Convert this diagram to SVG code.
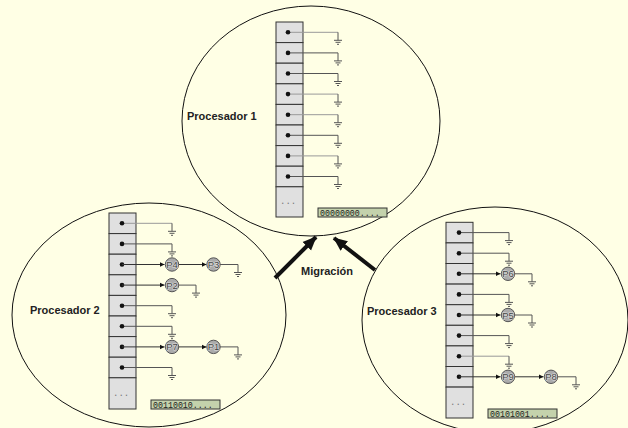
<svg xmlns="http://www.w3.org/2000/svg" xmlns:xlink="http://www.w3.org/1999/xlink" width="628" height="428" viewBox="0 0 628 428">
<style>
.ell{fill:none;stroke:#111;stroke-width:1}
.cell{fill:#E0E0E0;stroke:#333;stroke-width:1}
.dot{fill:#111}
.ln{fill:none;stroke:#555;stroke-width:1}
.lg{fill:none;stroke:#999;stroke-width:1}
.gnd{fill:none;stroke:#555;stroke-width:1}
.pc{fill:#ABABAB;stroke:#555;stroke-width:1}
.pt{font-family:"Liberation Sans",Arial,sans-serif;font-size:9.5px;fill:#444;text-anchor:middle;stroke:#DDD;stroke-width:1.2px;paint-order:stroke}
.lbl{font-family:"Liberation Sans",Arial,sans-serif;font-size:11px;font-weight:bold;fill:#222}
.bm{fill:#C4D2AC;stroke:#333;stroke-width:1}
.bt{font-family:"Liberation Mono","Courier New",monospace;font-size:8.3px;fill:#222}
.dd{font-family:"Liberation Mono",monospace;font-size:9px;fill:#777}
.arr{fill:none;stroke:#333;stroke-width:1}
.mig{fill:none;stroke:#111;stroke-width:4}
</style>
<defs>
<path id="gnd" class="gnd" d="M0,0 v8 M-4,8 h8 M-2.5,10 h5 M-1,12 h2"/>
<marker id="ah" markerWidth="6" markerHeight="6" refX="5" refY="3" orient="auto" markerUnits="userSpaceOnUse">
<path d="M0,0.5 L5,3 L0,5.5 Z" fill="#111"/>
</marker>
<marker id="big" markerWidth="14" markerHeight="14" refX="13" refY="7" orient="auto" markerUnits="userSpaceOnUse">
<path d="M0,1 L14,7 L0,13 Z" fill="#111"/>
</marker>
</defs>
<rect x="0" y="0" width="628" height="428" fill="#FFFFE5"/>

<g id="procesador1">
<ellipse class="ell" cx="311" cy="121" rx="129" ry="115"/>
<text class="lbl" x="187" y="120">Procesador 1</text>
<g>
<rect class="cell" x="276" y="22" width="27" height="20.6"/>
<rect class="cell" x="276" y="42.6" width="27" height="20.6"/>
<rect class="cell" x="276" y="63.2" width="27" height="20.6"/>
<rect class="cell" x="276" y="83.8" width="27" height="20.6"/>
<rect class="cell" x="276" y="104.4" width="27" height="20.6"/>
<rect class="cell" x="276" y="125" width="27" height="20.6"/>
<rect class="cell" x="276" y="145.6" width="27" height="20.6"/>
<rect class="cell" x="276" y="166.2" width="27" height="20.6"/>
<rect class="cell" x="276" y="186.8" width="27" height="30.2"/>
<text class="dd" x="280" y="204">...</text>
</g>
<g>
<path class="lg" d="M288,32.3 H338"/><use href="#gnd" x="338" y="32.3"/>
<path class="ln" d="M288,52.9 H338"/><use href="#gnd" x="338" y="52.9"/>
<path class="ln" d="M288,73.5 H338"/><use href="#gnd" x="338" y="73.5"/>
<path class="lg" d="M288,94.1 H338"/><use href="#gnd" x="338" y="94.1"/>
<path class="lg" d="M288,114.7 H338"/><use href="#gnd" x="338" y="114.7"/>
<path class="ln" d="M288,135.3 H338"/><use href="#gnd" x="338" y="135.3"/>
<path class="lg" d="M288,155.9 H338"/><use href="#gnd" x="338" y="155.9"/>
<path class="ln" d="M288,176.5 H338"/><use href="#gnd" x="338" y="176.5"/>
<circle class="dot" cx="288" cy="32.3" r="2.3"/>
<circle class="dot" cx="288" cy="52.9" r="2.3"/>
<circle class="dot" cx="288" cy="73.5" r="2.3"/>
<circle class="dot" cx="288" cy="94.1" r="2.3"/>
<circle class="dot" cx="288" cy="114.7" r="2.3"/>
<circle class="dot" cx="288" cy="135.3" r="2.3"/>
<circle class="dot" cx="288" cy="155.9" r="2.3"/>
<circle class="dot" cx="288" cy="176.5" r="2.3"/>
</g>
<rect class="bm" x="318" y="208" width="69" height="9"/>
<text class="bt" x="320" y="215.5">00000000....</text>
</g>

<g id="procesador2">
<ellipse class="ell" cx="149" cy="315" rx="137" ry="112"/>
<text class="lbl" x="30" y="314">Procesador 2</text>
<g>
<rect class="cell" x="109" y="213" width="27" height="20.6"/>
<rect class="cell" x="109" y="233.6" width="27" height="20.6"/>
<rect class="cell" x="109" y="254.2" width="27" height="20.6"/>
<rect class="cell" x="109" y="274.8" width="27" height="20.6"/>
<rect class="cell" x="109" y="295.4" width="27" height="20.6"/>
<rect class="cell" x="109" y="316" width="27" height="20.6"/>
<rect class="cell" x="109" y="336.6" width="27" height="20.6"/>
<rect class="cell" x="109" y="357.2" width="27" height="20.6"/>
<rect class="cell" x="109" y="377.8" width="27" height="31.2"/>
<text class="dd" x="113" y="396">...</text>
</g>
<g>
<path class="lg" d="M122,223.3 H172"/><use href="#gnd" x="172" y="223.3"/>
<path class="ln" d="M122,243.9 H172"/><use href="#gnd" x="172" y="243.9"/>
<path class="ln" d="M122,305.7 H172"/><use href="#gnd" x="172" y="305.7"/>
<path class="ln" d="M122,326.3 H172"/><use href="#gnd" x="172" y="326.3"/>
<path class="ln" d="M122,367.5 H172"/><use href="#gnd" x="172" y="367.5"/>
<path class="ln" d="M220,264.5 H238"/><use href="#gnd" x="238" y="264.5"/>
<path class="ln" d="M178,285.1 H196"/><use href="#gnd" x="196" y="285.1"/>
<path class="ln" d="M220,346.9 H238"/><use href="#gnd" x="238" y="346.9"/>
<circle class="dot" cx="122" cy="223.3" r="2.3"/>
<circle class="dot" cx="122" cy="243.9" r="2.3"/>
<circle class="dot" cx="122" cy="264.5" r="2.3"/>
<circle class="dot" cx="122" cy="285.1" r="2.3"/>
<circle class="dot" cx="122" cy="305.7" r="2.3"/>
<circle class="dot" cx="122" cy="326.3" r="2.3"/>
<circle class="dot" cx="122" cy="346.9" r="2.3"/>
<circle class="dot" cx="122" cy="367.5" r="2.3"/>
</g>
<rect class="bm" x="151" y="400" width="69" height="9"/>
<text class="bt" x="153" y="407.5">00110010....</text>
</g>

<g id="procesador3">
<ellipse class="ell" cx="495" cy="320" rx="133" ry="113"/>
<text class="lbl" x="367" y="315">Procesador 3</text>
<g>
<rect class="cell" x="446" y="222.3" width="27" height="20.6"/>
<rect class="cell" x="446" y="242.9" width="27" height="20.6"/>
<rect class="cell" x="446" y="263.5" width="27" height="20.6"/>
<rect class="cell" x="446" y="284.1" width="27" height="20.6"/>
<rect class="cell" x="446" y="304.7" width="27" height="20.6"/>
<rect class="cell" x="446" y="325.3" width="27" height="20.6"/>
<rect class="cell" x="446" y="345.9" width="27" height="20.6"/>
<rect class="cell" x="446" y="366.5" width="27" height="20.6"/>
<rect class="cell" x="446" y="387.1" width="27" height="30.9"/>
<text class="dd" x="450" y="405">...</text>
</g>
<g>
<path class="ln" d="M459,232.6 H509"/><use href="#gnd" x="509" y="232.6"/>
<path class="ln" d="M459,253.2 H509"/><use href="#gnd" x="509" y="253.2"/>
<path class="ln" d="M459,294.4 H509"/><use href="#gnd" x="509" y="294.4"/>
<path class="ln" d="M459,335.6 H509"/><use href="#gnd" x="509" y="335.6"/>
<path class="lg" d="M459,356.2 H509"/><use href="#gnd" x="509" y="356.2"/>
<path class="ln" d="M514,273.8 H532"/><use href="#gnd" x="532" y="273.8"/>
<path class="ln" d="M514,315 H532"/><use href="#gnd" x="532" y="315"/>
<path class="ln" d="M557,376.8 H576"/><use href="#gnd" x="576" y="376.8"/>
<circle class="dot" cx="459" cy="232.6" r="2.3"/>
<circle class="dot" cx="459" cy="253.2" r="2.3"/>
<circle class="dot" cx="459" cy="273.8" r="2.3"/>
<circle class="dot" cx="459" cy="294.4" r="2.3"/>
<circle class="dot" cx="459" cy="315" r="2.3"/>
<circle class="dot" cx="459" cy="335.6" r="2.3"/>
<circle class="dot" cx="459" cy="356.2" r="2.3"/>
<circle class="dot" cx="459" cy="376.8" r="2.3"/>
</g>
<rect class="bm" x="488" y="409" width="69" height="9"/>
<text class="bt" x="490" y="416.5">00101001....</text>
</g>

<g id="connectors">
<path class="arr" d="M122,264.5 H164.5" marker-end="url(#ah)"/>
<path class="arr" d="M178.5,264.5 H206.5" marker-end="url(#ah)"/>
<path class="arr" d="M122,285.1 H164.5" marker-end="url(#ah)"/>
<path class="arr" d="M122,346.9 H164.5" marker-end="url(#ah)"/>
<path class="arr" d="M178.5,346.9 H206.5" marker-end="url(#ah)"/>
<path class="arr" d="M459,273.8 H500.5" marker-end="url(#ah)"/>
<path class="arr" d="M459,315 H500.5" marker-end="url(#ah)"/>
<path class="arr" d="M459,376.8 H500.5" marker-end="url(#ah)"/>
<path class="arr" d="M514.5,376.8 H543.5" marker-end="url(#ah)"/>
<path class="mig" d="M275,278 L316,237" marker-end="url(#big)"/>
<path class="mig" d="M375,270 L334,238" marker-end="url(#big)"/>
</g>
<text class="lbl" x="301" y="275">Migración</text>

<g id="P4"><circle class="pc" cx="172" cy="264.5" r="6.7"/><text class="pt" x="172" y="268">P4</text></g>
<g id="P3"><circle class="pc" cx="213.5" cy="264.5" r="6.7"/><text class="pt" x="213.5" y="268">P3</text></g>
<g id="P2"><circle class="pc" cx="172" cy="285.1" r="6.7"/><text class="pt" x="172" y="288.6">P2</text></g>
<g id="P7"><circle class="pc" cx="172" cy="346.9" r="6.7"/><text class="pt" x="172" y="350.4">P7</text></g>
<g id="P1"><circle class="pc" cx="213.5" cy="346.9" r="6.7"/><text class="pt" x="213.5" y="350.4">P1</text></g>
<g id="P6"><circle class="pc" cx="508" cy="273.8" r="6.7"/><text class="pt" x="508" y="277.3">P6</text></g>
<g id="P5"><circle class="pc" cx="508" cy="315" r="6.7"/><text class="pt" x="508" y="318.5">P5</text></g>
<g id="P9"><circle class="pc" cx="508" cy="376.8" r="6.7"/><text class="pt" x="508" y="380.3">P9</text></g>
<g id="P8"><circle class="pc" cx="551" cy="376.8" r="6.7"/><text class="pt" x="551" y="380.3">P8</text></g>
</svg>
